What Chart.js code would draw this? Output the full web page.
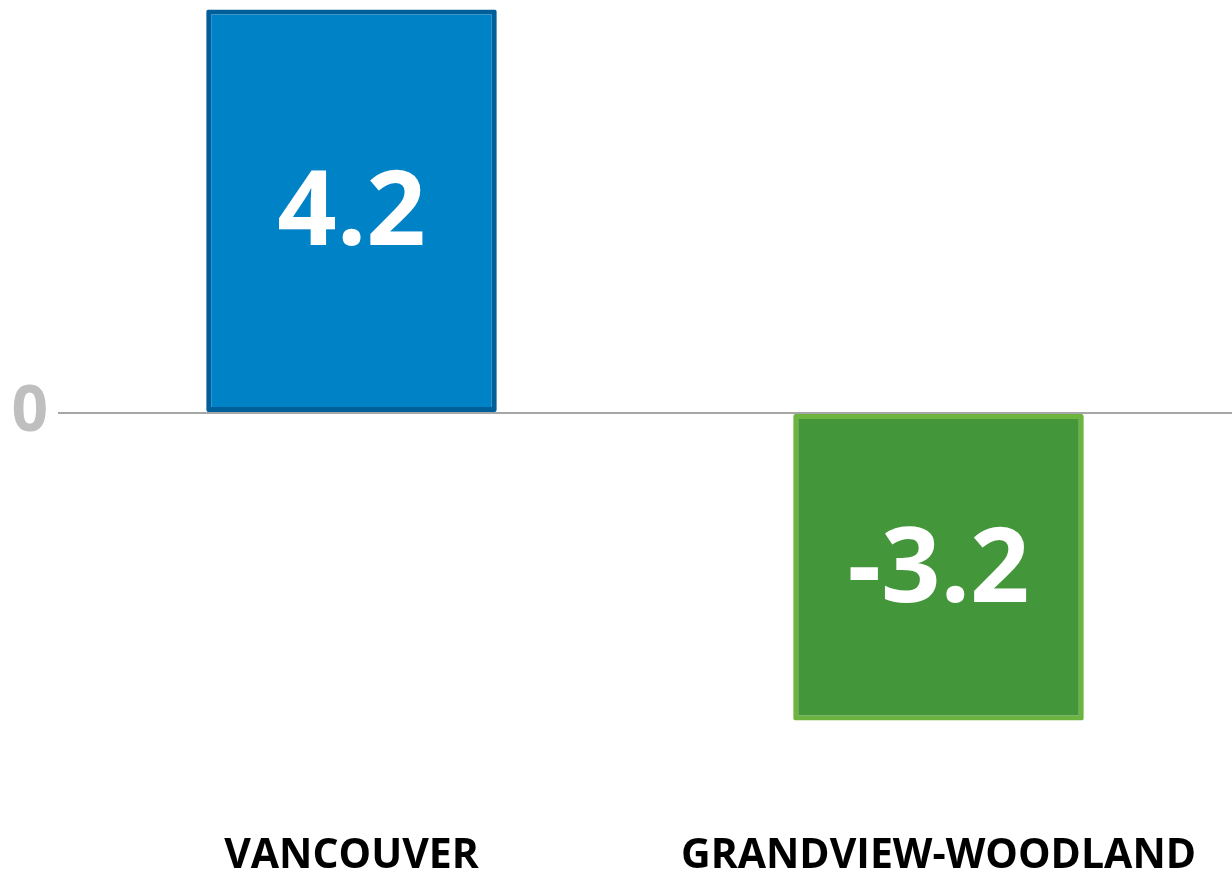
<!DOCTYPE html>
<html>
<head>
<meta charset="utf-8">
<script src="https://cdn.jsdelivr.net/npm/chart.js@4"></script>
<style>
  html, body { margin: 0; padding: 0; background: #fff; }
  #wrap { width: 1232px; height: 873px; position: relative; }
</style>
</head>
<body>
<div id="wrap"><canvas id="chart"></canvas></div>
<script>
// chart data
const categories = ["VANCOUVER", "GRANDVIEW-WOODLAND"];
const values = [4.2, -3.2];
const valueLabels = ["4.2", "-3.2"];
const tickValues = [0];

const fills = ["#0082C6", "#43963A"];
const borders = ["#005E99", "#6DB33F"];

// white numbers in the middle of each bar
const barLabels = {
  id: "barLabels",
  afterDatasetsDraw(chart) {
    const ctx = chart.ctx;
    const meta = chart.getDatasetMeta(0);
    ctx.save();
    ctx.fillStyle = "#fff";
    ctx.font = "bold 104px 'Open Sans', sans-serif";
    ctx.textAlign = "center";
    ctx.textBaseline = "middle";
    meta.data.forEach((bar, i) => {
      const p = bar.getProps(["x", "y", "base"], true);
      ctx.fillText(valueLabels[i], p.x, (p.y + p.base) / 2 + 5);
    });
    ctx.restore();
  }
};

new Chart(document.getElementById("chart"), {
  type: "bar",
  data: {
    labels: categories,
    datasets: [{
      data: values,
      backgroundColor: fills,
      borderColor: borders,
      borderWidth: 5,
      borderSkipped: false,
      borderRadius: 2,
      barPercentage: 0.495,
      categoryPercentage: 1
    }]
  },
  options: {
    responsive: true,
    maintainAspectRatio: false,
    animation: false,
    layout: { padding: 0 },
    plugins: {
      legend: { display: false },
      tooltip: { enabled: false }
    },
    scales: {
      x: {
        afterFit(axis) {
          axis.height = 66;
          axis.paddingLeft = 0;
          axis.paddingRight = 0;
        },
        grid: { display: false },
        border: { display: false },
        ticks: {
          color: "#000",
          font: { family: "'Open Sans', sans-serif", size: 41, weight: "bold" },
          padding: 17
        }
      },
      y: {
        min: -4.1,
        max: 4.3,
        afterBuildTicks(axis) {
          axis.ticks = tickValues.map(v => ({ value: v }));
        },
        afterFit(axis) {
          axis.width = 58;
          axis.paddingTop = 0;
          axis.paddingBottom = 0;
        },
        border: { display: false },
        grid: {
          color: "#A6A6A6",
          lineWidth: 2,
          drawTicks: false
        },
        ticks: {
          color: "#BFBFBF",
          font: { family: "'Open Sans', sans-serif", size: 64, weight: "bold" },
          padding: 10
        }
      }
    }
  },
  plugins: [barLabels]
});
</script>
</body>
</html>
